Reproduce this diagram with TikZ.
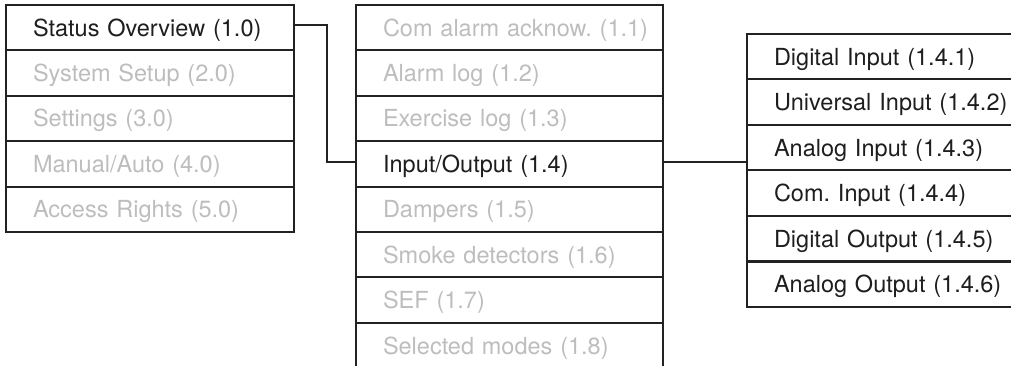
\documentclass[tikz,border=0pt]{standalone}
\usepackage{fontspec}
\setmainfont{TeX Gyre Heros}
\usepackage{tikz}
\usetikzlibrary{positioning}
\definecolor{ink}{HTML}{1E1E1E}
\definecolor{mute}{HTML}{BDBDBD}
\definecolor{edge}{HTML}{222222}
\frenchspacing

\begin{document}
\begin{tikzpicture}[x=1pt,y=-1pt,
    menuitem/.style={draw=edge, line width=2pt, rectangle, anchor=north west,
      minimum height=45.4pt, inner xsep=0pt, inner ysep=0pt,
      text height=22pt, text depth=5pt, align=left,
      font=\fontsize{23.5}{28}\selectfont},
    wire/.style={draw=edge, line width=2pt}]
  \useasboundingbox (0,0) rectangle (1011,366);
  \clip (0,0) rectangle (1011,366);
  % top level menu
  \foreach \i/\n/\c in {
     0/{Status Overview (1.0)}/ink,
     1/{System Setup (2.0)}/mute,
     2/{Settings (3.0)}/mute,
     3/{Manual/Auto (4.0)}/mute,
     4/{Access Rights (5.0)}/mute}
  {
    \node[menuitem, text width=288pt, text=\c] (main\i) at (5, 4+\i*45.4) {\hspace*{27pt}\n};
  }
  % status overview submenu
  \foreach \i/\n/\c in {
     0/{Com alarm acknow. (1.1)}/mute,
     1/{Alarm log (1.2)}/mute,
     2/{Exercise log (1.3)}/mute,
     3/{Input/Output (1.4)}/ink,
     4/{Dampers (1.5)}/mute,
     5/{Smoke detectors (1.6)}/mute,
     6/{SEF (1.7)}/mute,
     7/{Selected modes (1.8)}/mute}
  {
    \node[menuitem, text width=307pt, text=\c] (sub\i) at (355, 4+\i*45.4) {\hspace*{27pt}\n};
  }
  % input/output submenu
  \foreach \i/\n in {
     0/{Digital Input (1.4.1)},
     1/{Universal Input (1.4.2)},
     2/{Analog Input (1.4.3)},
     3/{Com. Input (1.4.4)},
     4/{Digital Output (1.4.5)},
     5/{Analog Output (1.4.6)}}
  {
    \node[menuitem, text width=300pt, text=ink] (io\i) at (746, 33+\i*45.5) {\hspace*{27pt}\n};
  }
  \draw[wire] ([yshift=3pt]main0.east) -- ++(32,0) |- ([yshift=1.5pt]sub3.west);
  \draw[wire] ([yshift=1.5pt]sub3.east) -- ([yshift=1.5pt]sub3.east -| io0.west);
\end{tikzpicture}
\end{document}
